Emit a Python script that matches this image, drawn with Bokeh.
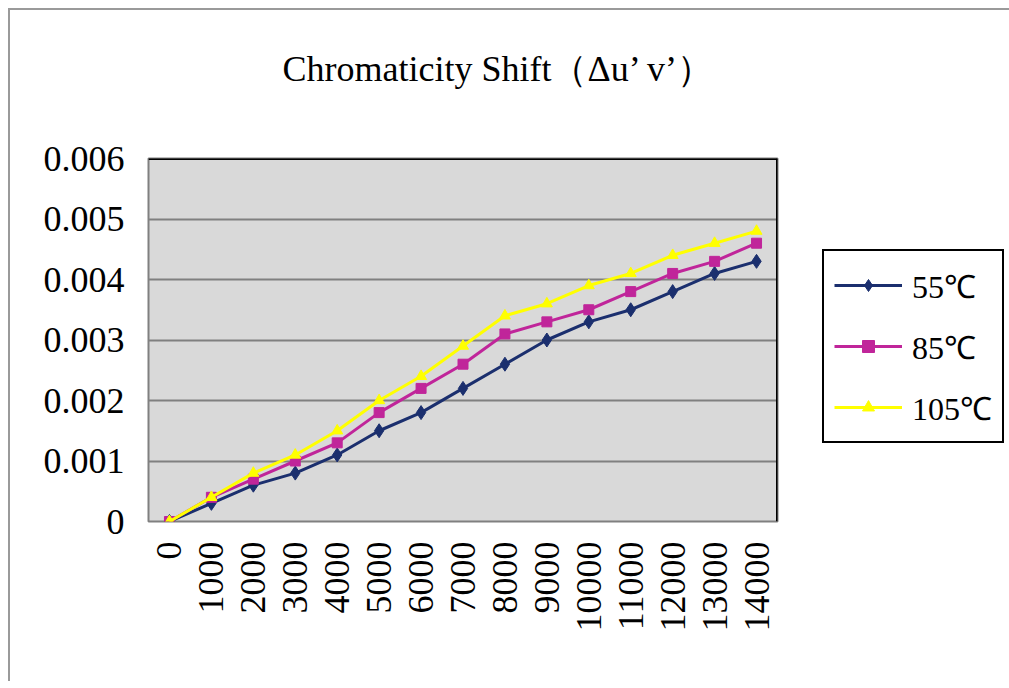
from bokeh.plotting import figure
from bokeh.models import (FactorRange, Range1d, FixedTicker, Legend, LegendItem, Span, Title)
from bokeh.embed import file_html
from bokeh.resources import INLINE
import math

hours = ["0", "1000", "2000", "3000", "4000", "5000", "6000", "7000",
         "8000", "9000", "10000", "11000", "12000", "13000", "14000"]
s55 = [0, 0.0003, 0.0006, 0.0008, 0.0011, 0.0015, 0.0018, 0.0022,
       0.0026, 0.0030, 0.0033, 0.0035, 0.0038, 0.0041, 0.0043]
s85 = [0, 0.0004, 0.0007, 0.0010, 0.0013, 0.0018, 0.0022, 0.0026,
       0.0031, 0.0033, 0.0035, 0.0038, 0.0041, 0.0043, 0.0046]
s105 = [0, 0.0004, 0.0008, 0.0011, 0.0015, 0.0020, 0.0024, 0.0029,
        0.0034, 0.0036, 0.0039, 0.0041, 0.0044, 0.0046, 0.0048]
series_names = ["55℃", "85℃", "105℃"]
y_ticks = [0, 0.001, 0.002, 0.003, 0.004, 0.005, 0.006]
y_tick_labels = ["0", "0.001", "0.002", "0.003", "0.004", "0.005", "0.006"]
title_text = "Chromaticity Shift（Δu’ v’）"

FONT = "Liberation Serif"

p = figure(frame_width=629, frame_height=363, output_backend="svg", toolbar_location=None,
           x_range=FactorRange(factors=hours, range_padding=0),
           y_range=Range1d(0, 0.006),
           min_border_left=138, min_border_right=5,
           min_border_top=148, min_border_bottom=160)
p.styles = {"margin-left": "8px", "margin-top": "8px",
            "border-top": "2px solid #9a9a9a", "border-left": "2px solid #9a9a9a"}
p.background_fill_color = "#d9d9d9"
p.border_fill_color = "white"
p.outline_line_color = "#808080"
p.outline_line_width = 2

p.title.text = title_text
p.title.text_font = FONT
p.title.text_font_size = "36px"
p.title.text_font_style = "normal"
p.title.text_color = "black"
p.title.align = "left"
p.title.offset = 134
p.title.vertical_align = "top"
p.title.standoff = 10

# empty spacer between title and frame
spacer = Title(text=" ", text_font=FONT, text_font_size="36px", standoff=21)
p.add_layout(spacer, "above")

p.xgrid.grid_line_color = None
p.ygrid.grid_line_color = "#808080"
p.ygrid.grid_line_width = 2
p.ygrid.ticker = FixedTicker(ticks=y_ticks)

p.yaxis.ticker = FixedTicker(ticks=y_ticks)
p.yaxis.major_label_overrides = {t: l for t, l in zip(y_ticks, y_tick_labels)}
for ax in (p.xaxis[0], p.yaxis[0]):
    ax.axis_line_color = None
    ax.major_tick_line_color = None
    ax.minor_tick_line_color = None
    ax.major_label_text_font = FONT
    ax.major_label_text_font_size = "36px"
    ax.major_label_text_color = "black"
p.yaxis.major_label_standoff = 18
p.xaxis.major_label_standoff = 14
p.xaxis.major_label_orientation = math.pi / 2

p.add_layout(Span(location=0.006, dimension="width", line_color="black", line_width=3))
p.add_layout(Span(location=len(hours), dimension="height", line_color="black", line_width=3))

colors = ["#1b2f6e", "#c0259a", "#ffff00"]
r55l = p.line(hours, s55, line_color=colors[0], line_width=3)
r55m = p.scatter(hours, s55, marker="diamond", size=14, fill_color=colors[0], line_color=colors[0])
r85l = p.line(hours, s85, line_color=colors[1], line_width=3)
r85m = p.scatter(hours, s85, marker="square", size=10, fill_color=colors[1], line_color=colors[1])
r105l = p.line(hours, s105, line_color=colors[2], line_width=3)
r105m = p.scatter(hours, s105, marker="triangle", size=11, fill_color=colors[2], line_color=colors[2])

legend = Legend(items=[LegendItem(label=series_names[0], renderers=[r55l, r55m]),
                       LegendItem(label=series_names[1], renderers=[r85l, r85m]),
                       LegendItem(label=series_names[2], renderers=[r105l, r105m])],
                location=(45, 78))
legend.label_text_font = FONT
legend.label_text_font_size = "32px"
legend.label_text_color = "black"
legend.label_height = 48
legend.glyph_height = 30
legend.glyph_width = 68
legend.label_standoff = 10
legend.spacing = 13
legend.padding = 10
legend.margin = 0
legend.border_line_color = "black"
legend.border_line_alpha = 1
legend.border_line_width = 2
legend.background_fill_color = "white"
legend.background_fill_alpha = 1
p.add_layout(legend, "right")

open("out.html", "w").write(file_html(p, INLINE))
